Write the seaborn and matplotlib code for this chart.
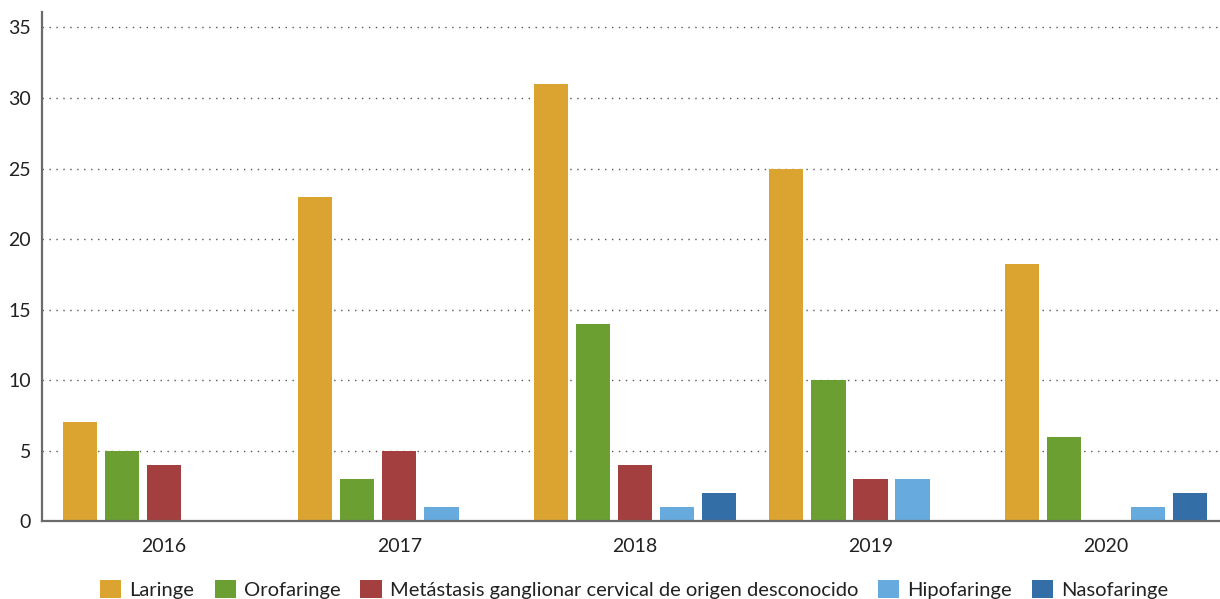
import matplotlib
matplotlib.use("Agg")
import matplotlib.pyplot as plt
import seaborn as sns
import pandas as pd

years = ["2016", "2017", "2018", "2019", "2020"]
series = ["Laringe", "Orofaringe", "Metástasis ganglionar cervical de origen desconocido",
          "Hipofaringe", "Nasofaringe"]
laringe = [7, 23, 31, 25, 18.2]
orofaringe = [5, 3, 14, 10, 6]
metastasis = [4, 5, 4, 3, 0]
hipofaringe = [0, 1, 1, 3, 1]
nasofaringe = [0, 0, 2, 0, 2]
colors = ["#DBA431", "#6B9F32", "#A33F3F", "#67ABDE", "#336FA6"]

values = [laringe, orofaringe, metastasis, hipofaringe, nasofaringe]
rows = []
for s, vals in zip(series, values):
    for y, v in zip(years, vals):
        rows.append({"year": y, "serie": s, "value": v})
df = pd.DataFrame(rows)

sns.set_style("white")
plt.rcParams["font.family"] = ["Lato", "DejaVu Sans"]

fig = plt.figure(figsize=(12.2, 5.99), dpi=100)
ax = fig.add_axes([0.0344, 0.130, 0.9656, 0.85])

sns.barplot(data=df, x="year", y="value", hue="serie", hue_order=series,
            palette=colors, saturation=1, width=0.892, gap=0.19, linewidth=0, ax=ax,
            legend=True)

ax.set_ylim(0, 36.1)
ax.set_xlim(-0.518, 4.484)
ax.set_yticks(range(0, 36, 5))
ax.yaxis.grid(True, linestyle=(0, (1, 4)), color="#555555", linewidth=1.0)
ax.xaxis.grid(False)
ax.set_axisbelow(True)
for side in ["top", "right"]:
    ax.spines[side].set_visible(False)
for side in ["left", "bottom"]:
    ax.spines[side].set_color("#6b6b6b")
    ax.spines[side].set_linewidth(1.6)
ax.tick_params(axis="both", length=0, labelsize=14, colors="#222222")
ax.tick_params(axis="x", pad=12)
ax.tick_params(axis="y", pad=8)
ax.set_xlabel("")
ax.set_ylabel("")

handles, labels = ax.get_legend_handles_labels()
ax.legend_.remove()
fig.legend(handles, labels, loc="lower center", bbox_to_anchor=(0.52, -0.03),
           ncol=5, frameon=False, fontsize=14.5, handlelength=1.05, handleheight=1.05,
           handletextpad=0.4, columnspacing=1.0, labelcolor="#222222")

fig.savefig("out.png", dpi=100)
